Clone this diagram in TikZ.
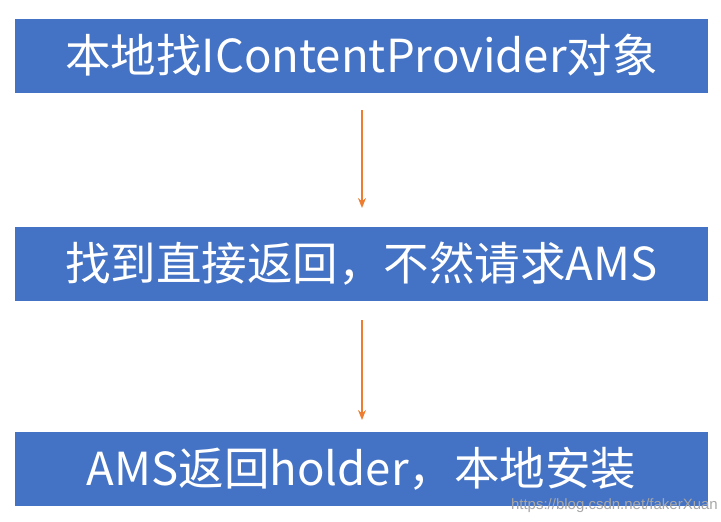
\documentclass[tikz,border=0pt]{standalone}
\usepackage{fontspec}
\newfontfamily\cjk{Noto Sans CJK SC}
\newfontfamily\wm{Liberation Sans}
\usetikzlibrary{arrows.meta}
\definecolor{boxblue}{HTML}{4472C4}
\definecolor{arrorange}{HTML}{ED7D31}
\begin{document}
\begin{tikzpicture}[x=1pt,y=-1pt,
  stepbox/.style={fill=boxblue,draw=none,minimum width=693pt,minimum height=74pt,inner sep=0pt,text=white,font=\cjk\fontsize{45.5}{48}\selectfont},
  flow/.style={draw=arrorange,line width=2pt,-{Stealth[length=10pt,width=8pt]}}]
\useasboundingbox (0,0) rectangle (721,522);
\node[stepbox] (a) at (361.5,55.5) {本地找IContentProvider对象};
\node[stepbox] (b) at (361.5,264) {找到直接返回，不然请求AMS};
\node[stepbox] (c) at (361.5,469) {AMS返回holder，本地安装};
\draw[flow] (362,110) -- (362,208);
\draw[flow] (362,320) -- (362,420);
\node[anchor=south east,inner sep=1pt,font=\wm\fontsize{15}{16}\selectfont,text=gray!70] (w) at (719,514) {https://blog.csdn.net/fakerXuan};
\end{tikzpicture}
\end{document}
